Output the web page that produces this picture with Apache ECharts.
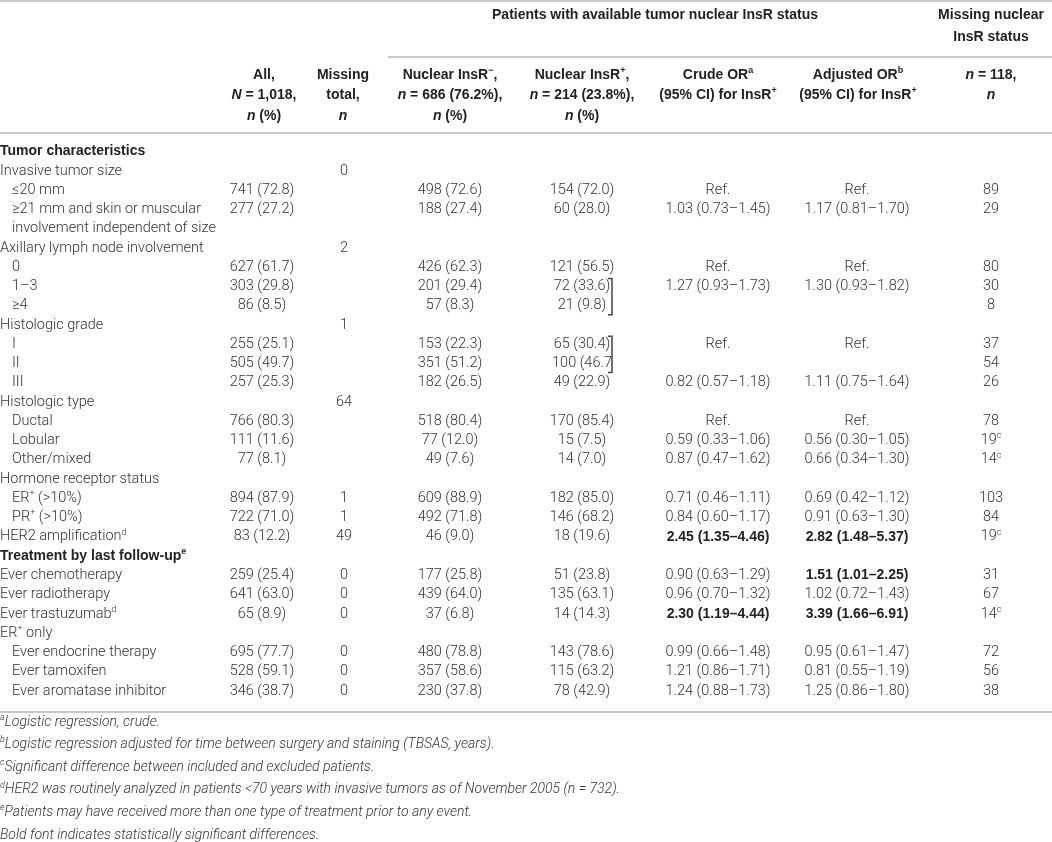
<!DOCTYPE html>
<html>
<head>
<meta charset="utf-8">
<style>
html,body{margin:0;padding:0;background:#fff;}
#main{width:1052px;height:842px;}
</style>
<script src="https://cdn.jsdelivr.net/npm/echarts@6/dist/echarts.min.js"></script>
</head>
<body>
<div id="main"></div>
<script>
// table rows (level 0 = section, 1 = variable, 2 = sub item)
var rowLabels = [
	'Tumor characteristics',
	'Invasive tumor size',
	'≤20 mm',
	'≥21 mm and skin or muscular',
	'involvement independent of size',
	'Axillary lymph node involvement',
	'0',
	'1–3',
	'≥4',
	'Histologic grade',
	'I',
	'II',
	'III',
	'Histologic type',
	'Ductal',
	'Lobular',
	'Other/mixed',
	'Hormone receptor status',
	'ER{s|+} (>10%)',
	'PR{s|+} (>10%)',
	'HER2 amplification{s|d}',
	'Treatment by last follow-up{s|e}',
	'Ever chemotherapy',
	'Ever radiotherapy',
	'Ever trastuzumab{s|d}',
	'ER{s|+} only',
	'Ever endocrine therapy',
	'Ever tamoxifen',
	'Ever aromatase inhibitor'
];
var rowLevel = [0,1,2,2,2,1,2,2,2,1,2,2,2,1,2,2,2,1,2,2,1,0,1,1,1,1,2,2,2];

var allN = ['', '', '741 (72.8)', '277 (27.2)', '', '', '627 (61.7)', '303 (29.8)', '86 (8.5)', '',
	'255 (25.1)', '505 (49.7)', '257 (25.3)', '', '766 (80.3)', '111 (11.6)', '77 (8.1)', '',
	'894 (87.9)', '722 (71.0)', '83 (12.2)', '', '259 (25.4)', '641 (63.0)', '65 (8.9)', '',
	'695 (77.7)', '528 (59.1)', '346 (38.7)'];
var missTotal = ['', '0', '', '', '', '2', '', '', '', '1', '', '', '', '64', '', '', '', '',
	'1', '1', '49', '', '0', '0', '0', '', '0', '0', '0'];
var negN = ['', '', '498 (72.6)', '188 (27.4)', '', '', '426 (62.3)', '201 (29.4)', '57 (8.3)', '',
	'153 (22.3)', '351 (51.2)', '182 (26.5)', '', '518 (80.4)', '77 (12.0)', '49 (7.6)', '',
	'609 (88.9)', '492 (71.8)', '46 (9.0)', '', '177 (25.8)', '439 (64.0)', '37 (6.8)', '',
	'480 (78.8)', '357 (58.6)', '230 (37.8)'];
var posN = ['', '', '154 (72.0)', '60 (28.0)', '', '', '121 (56.5)', '72 (33.6)', '21 (9.8)', '',
	'65 (30.4)', '100 (46.7', '49 (22.9)', '', '170 (85.4)', '15 (7.5)', '14 (7.0)', '',
	'182 (85.0)', '146 (68.2)', '18 (19.6)', '', '51 (23.8)', '135 (63.1)', '14 (14.3)', '',
	'143 (78.6)', '115 (63.2)', '78 (42.9)'];
var crudeOR = ['', '', 'Ref.', '1.03 (0.73–1.45)', '', '', 'Ref.', '1.27 (0.93–1.73)', '', '',
	'Ref.', '', '0.82 (0.57–1.18)', '', 'Ref.', '0.59 (0.33–1.06)', '0.87 (0.47–1.62)', '',
	'0.71 (0.46–1.11)', '0.84 (0.60–1.17)', '2.45 (1.35–4.46)', '', '0.90 (0.63–1.29)',
	'0.96 (0.70–1.32)', '2.30 (1.19–4.44)', '', '0.99 (0.66–1.48)', '1.21 (0.86–1.71)', '1.24 (0.88–1.73)'];
var adjOR = ['', '', 'Ref.', '1.17 (0.81–1.70)', '', '', 'Ref.', '1.30 (0.93–1.82)', '', '',
	'Ref.', '', '1.11 (0.75–1.64)', '', 'Ref.', '0.56 (0.30–1.05)', '0.66 (0.34–1.30)', '',
	'0.69 (0.42–1.12)', '0.91 (0.63–1.30)', '2.82 (1.48–5.37)', '', '1.51 (1.01–2.25)',
	'1.02 (0.72–1.43)', '3.39 (1.66–6.91)', '', '0.95 (0.61–1.47)', '0.81 (0.55–1.19)', '1.25 (0.86–1.80)'];
var missNuc = ['', '', '89', '29', '', '', '80', '30', '8', '', '37', '54', '26', '', '78',
	'19{s|c}', '14{s|c}', '', '103', '84', '19{s|c}', '', '31', '67', '14{s|c}', '', '72', '56', '38'];

// significant cells [row, column]
var boldCells = [[20,5],[20,6],[22,6],[24,5],[24,6]];
// pooled categories [first row, last row]
var bracketRows = [[7,8],[10,11]];

var spanTitle = 'Patients with available tumor nuclear InsR status';
var missTitle = ['Missing nuclear', 'InsR status'];
var colHeads = [
	['All,', '{i|N} = 1,018,', '{i|n} (%)'],
	['Missing', 'total,', '{i|n}'],
	['Nuclear InsR{s|−},', '{i|n} = 686 (76.2%),', '{i|n} (%)'],
	['Nuclear InsR{s|+},', '{i|n} = 214 (23.8%),', '{i|n} (%)'],
	['Crude OR{s|a}', '(95% CI) for InsR{s|+}'],
	['Adjusted OR{s|b}', '(95% CI) for InsR{s|+}'],
	['{i|n} = 118,', '{i|n}']
];
var footnotes = [
	'{s|a}Logistic regression, crude.',
	'{s|b}Logistic regression adjusted for time between surgery and staining (TBSAS, years).',
	'{s|c}Significant difference between included and excluded patients.',
	'{s|d}HER2 was routinely analyzed in patients <70 years with invasive tumors as of November 2005 (n = 732).',
	'{s|e}Patients may have received more than one type of treatment prior to any event.',
	'Bold font indicates statistically significant differences.'
];

// layout
var colX = [0, 262, 344, 450, 582, 718, 857, 991];
var headX = [264, 343, 450, 582, 718, 858, 991];
var indent = [0, 0, 12];
var FONT = 'Roboto, "Liberation Sans", sans-serif';
var BFONT = '"Liberation Sans", Arial, sans-serif';
var lineColor = '#b4b4b4';

var columns = [rowLabels, allN, missTotal, negN, posN, crudeOR, adjOR, missNuc];
var cells = [];
for (var r = 0; r < rowLabels.length; r++) {
	for (var c = 0; c < columns.length; c++) {
		var t = columns[c][r];
		if (!t) continue;
		var bold = (c === 0 && rowLevel[r] === 0);
		boldCells.forEach(function(b){ if (b[0] === r && b[1] === c) bold = true; });
		var x = colX[c] + (c === 0 ? indent[rowLevel[r]] : 0);
		cells.push({value: [x, r], text: t, col: c, bold: bold});
	}
}

function richFor(size, family, weight, style, color){
	return {
		s: {fontSize: Math.round(size * 0.62), fontFamily: family, fontWeight: weight, fontStyle: style,
			fill: color, verticalAlign: 'top', lineHeight: 11},
		i: {fontSize: size, fontFamily: family, fontWeight: weight, fontStyle: 'italic',
			fill: color, lineHeight: 18}
	};
}

function txt(text, x, y, align, size, family, weight, style, color){
	return {
		type: 'text',
		silent: true,
		style: {
			text: text, x: x, y: y,
			align: align, textAlign: align,
			verticalAlign: 'middle', textVerticalAlign: 'middle',
			fill: color, fontSize: size, fontFamily: family, fontWeight: weight, fontStyle: style,
			lineHeight: 18,
			rich: richFor(size, family, weight, style, color)
		}
	};
}

var graphics = [];
function hline(y, x1, x2){
	graphics.push({type: 'line', silent: true,
		shape: {x1: x1, y1: y, x2: x2, y2: y},
		style: {stroke: lineColor, lineWidth: 1.5}});
}
hline(1, 0, 1052);
hline(57, 388, 1052);
hline(133, 0, 1052);
hline(712, 0, 1052);

graphics.push(txt(spanTitle, 655, 15, 'center', 14, BFONT, 'bold', 'normal', '#222'));
missTitle.forEach(function(t, i){
	graphics.push(txt(t, 991, 15 + i * 22, 'center', 14, BFONT, 'bold', 'normal', '#222'));
});
colHeads.forEach(function(lines, c){
	lines.forEach(function(t, i){
		graphics.push(txt(t, headX[c], 75 + i * 20.5, 'center', 14, BFONT, 'bold', 'normal', '#222'));
	});
});
footnotes.forEach(function(t, i){
	graphics.push(txt(t, 0, 722 + i * 22.6, 'left', 14, FONT, 300, 'italic', '#333'));
});

var option = {
	backgroundColor: '#fff',
	animation: false,
	grid: {left: 0, right: 0, top: 142, height: 558.6, containLabel: false},
	xAxis: {type: 'value', min: 0, max: 1052, show: false},
	yAxis: {type: 'category', inverse: true, show: false,
		data: rowLabels.map(function(_, i){ return String(i); })},
	graphic: graphics,
	series: [{
		type: 'custom',
		data: cells,
		renderItem: function(params, api){
			var d = cells[params.dataIndex];
			var p = api.coord([api.value(0), api.value(1)]);
			var align = d.col === 0 ? 'left' : 'center';
			if (d.bold) {
				return txt(d.text, p[0], p[1], align, 14, BFONT, 'bold', 'normal', '#222');
			}
			return txt(d.text, p[0], p[1], align, 14.5, FONT, 300, 'normal', '#333');
		}
	}, {
		type: 'custom',
		data: bracketRows,
		renderItem: function(params, api){
			var p1 = api.coord([colX[4], api.value(0)]);
			var p2 = api.coord([colX[4], api.value(1)]);
			var x = p1[0] + 30;
			var y1 = p1[1] - 8, y2 = p2[1] + 9;
			return {
				type: 'polyline',
				shape: {points: [[x - 4, y1], [x, y1], [x, y2], [x - 4, y2]]},
				style: {stroke: '#444', lineWidth: 1.5, fill: null}
			};
		}
	}]
};

var myChart = echarts.init(document.getElementById('main'));
myChart.setOption(option);
</script>
</body>
</html>
